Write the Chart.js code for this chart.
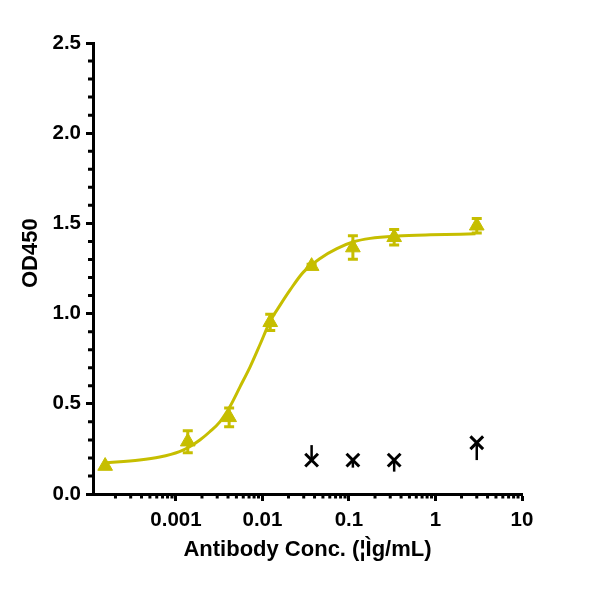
<!DOCTYPE html>
<html>
<head>
<meta charset="utf-8">
<script src="https://cdn.jsdelivr.net/npm/chart.js@4.4.0/dist/chart.umd.min.js"></script>
<style>
  html, body { margin: 0; padding: 0; background: #fff; }
</style>
</head>
<body>
<canvas id="chart" width="591" height="590"></canvas>
<script>
// antibody, mean and SD per concentration (ug/mL)
const concentrations = [0.000152, 0.00137, 0.00412, 0.0123, 0.037, 0.111, 0.333, 3];
const antibodyOD = [0.155, 0.29, 0.425, 0.952, 1.263, 1.366, 1.423, 1.487];
const antibodySD = [0, 0.061, 0.052, 0.045, 0.01, 0.065, 0.043, 0.04];

// control, error bars only drawn on one side in the original
const controlConc = [0.037, 0.111, 0.333, 3];
const controlOD = [0.188, 0.188, 0.188, 0.284];
const controlErrUp = [0.083, 0, 0, 0];
const controlErrDown = [0, 0.042, 0.064, 0.096];

// fitted curve
const curveX = [0.00015, 0.00038, 0.00065, 0.0011, 0.00144, 0.00189, 0.00246, 0.00322, 0.0042, 0.0055,
  0.0072, 0.0094, 0.0122, 0.016, 0.0208, 0.0297, 0.0464, 0.0725, 0.113, 0.176, 0.36, 0.875, 2.9];
const curveY = [0.172, 0.188, 0.205, 0.235, 0.262, 0.299, 0.345, 0.40, 0.484, 0.594,
  0.705, 0.83, 0.955, 1.047, 1.13, 1.23, 1.306, 1.36, 1.398, 1.417, 1.43, 1.437, 1.442];

const xTicks = [0.001, 0.01, 0.1, 1, 10];
const xTickLabels = ['0.001', '0.01', '0.1', '1', '10'];
const yTicks = [0, 0.5, 1, 1.5, 2, 2.5];
const yTickLabels = ['0.0', '0.5', '1.0', '1.5', '2.0', '2.5'];

const X_MIN = 0.00011, X_MAX = 10;
const COLOR = '#C6BE00';
const FONT = 'Liberation Sans, Arial, sans-serif';

// minor ticks: 2..9 of every decade, every 0.1 on y
const minorX = [];
for (let d = -4; d <= 0; d++) {
  for (let m = 2; m <= 9; m++) {
    const v = m * Math.pow(10, d);
    if (v >= X_MIN && v <= X_MAX) minorX.push(v);
  }
}
const minorY = [];
for (let i = 1; i < 25; i++) {
  if (i % 5 !== 0) minorY.push(i / 10);
}

const minorTicks = {
  id: 'minorTicks',
  afterDraw(chart) {
    const { ctx, scales: { x, y } } = chart;
    ctx.save();
    ctx.strokeStyle = '#000';
    ctx.lineWidth = 3;
    ctx.beginPath();
    minorX.forEach(v => {
      const px = x.getPixelForValue(v);
      ctx.moveTo(px, x.top);
      ctx.lineTo(px, x.top + 4.5);
    });
    minorY.forEach(v => {
      const py = y.getPixelForValue(v);
      ctx.moveTo(y.right, py);
      ctx.lineTo(y.right - 5, py);
    });
    ctx.stroke();
    ctx.restore();
  }
};

const errorBars = {
  id: 'errorBars',
  beforeDatasetsDraw(chart) {
    const { ctx, scales: { x, y } } = chart;
    ctx.save();
    ctx.lineWidth = 3;
    ctx.strokeStyle = COLOR;
    concentrations.forEach((c, i) => {
      if (!antibodySD[i]) return;
      const px = x.getPixelForValue(c);
      const top = y.getPixelForValue(antibodyOD[i] + antibodySD[i]);
      const bot = y.getPixelForValue(antibodyOD[i] - antibodySD[i]);
      ctx.beginPath();
      ctx.moveTo(px, top); ctx.lineTo(px, bot);
      ctx.moveTo(px - 5, top); ctx.lineTo(px + 5, top);
      ctx.moveTo(px - 5, bot); ctx.lineTo(px + 5, bot);
      ctx.stroke();
    });
    ctx.strokeStyle = '#000';
    ctx.lineWidth = 2.5;
    controlConc.forEach((c, i) => {
      const px = x.getPixelForValue(c);
      ctx.beginPath();
      ctx.moveTo(px, y.getPixelForValue(controlOD[i] + controlErrUp[i]));
      ctx.lineTo(px, y.getPixelForValue(controlOD[i] - controlErrDown[i]));
      ctx.stroke();
    });
    ctx.restore();
  }
};

function points(xs, ys) {
  return xs.map((v, i) => ({ x: v, y: ys[i] }));
}

new Chart(document.getElementById('chart'), {
  type: 'scatter',
  data: {
    datasets: [
      {
        label: 'Antibody',
        data: points(concentrations, antibodyOD),
        pointStyle: 'triangle',
        pointRadius: 8.5,
        borderWidth: 1,
        borderColor: COLOR,
        backgroundColor: COLOR,
        clip: false,
        order: 1
      },
      {
        label: 'Control',
        data: points(controlConc, controlOD),
        pointStyle: 'crossRot',
        pointRadius: 9,
        borderWidth: 3,
        borderColor: '#000',
        backgroundColor: '#000',
        clip: false,
        order: 2
      },
      {
        label: 'Fit',
        data: points(curveX, curveY),
        showLine: true,
        pointRadius: 0,
        borderColor: COLOR,
        borderWidth: 3,
        cubicInterpolationMode: 'monotone',
        order: 3
      }
    ]
  },
  options: {
    responsive: false,
    animation: false,
    layout: { padding: { left: 0, top: 43, right: 69, bottom: 0 } },
    plugins: { legend: { display: false }, tooltip: { enabled: false } },
    scales: {
      x: {
        type: 'logarithmic',
        min: X_MIN,
        max: X_MAX,
        border: { color: '#000', width: 3 },
        grid: { drawOnChartArea: false, color: '#000', tickLength: 7, tickWidth: 3 },
        afterBuildTicks: scale => { scale.ticks = xTicks.map(v => ({ value: v })); },
        afterFit: scale => { scale.height = 96; },
        ticks: {
          autoSkip: false,
          maxRotation: 0,
          padding: 7,
          color: '#000',
          font: { family: FONT, size: 20.5, weight: 'bold' },
          callback: value => xTickLabels[xTicks.indexOf(value)]
        },
        title: {
          display: true,
          text: 'Antibody Conc. (¦Ìg/mL)',
          color: '#000',
          font: { family: FONT, size: 22, weight: 'bold', lineHeight: 1.2 },
          padding: { top: 0, bottom: 27 }
        }
      },
      y: {
        min: 0,
        max: 2.5,
        border: { color: '#000', width: 3 },
        grid: { drawOnChartArea: false, color: '#000', tickLength: 7, tickWidth: 3 },
        afterBuildTicks: scale => { scale.ticks = yTicks.map(v => ({ value: v })); },
        afterFit: scale => { scale.width = 93; },
        ticks: {
          padding: 5,
          color: '#000',
          font: { family: FONT, size: 20.5, weight: 'bold' },
          callback: value => yTickLabels[yTicks.indexOf(value)]
        },
        title: {
          display: true,
          // leading spaces nudge the label up the axis like the original
          text: '     OD450',
          color: '#000',
          font: { family: FONT, size: 22, weight: 'bold', lineHeight: 1.2 },
          padding: { top: 18, bottom: 0 }
        }
      }
    }
  },
  plugins: [errorBars, minorTicks]
});
</script>
</body>
</html>
